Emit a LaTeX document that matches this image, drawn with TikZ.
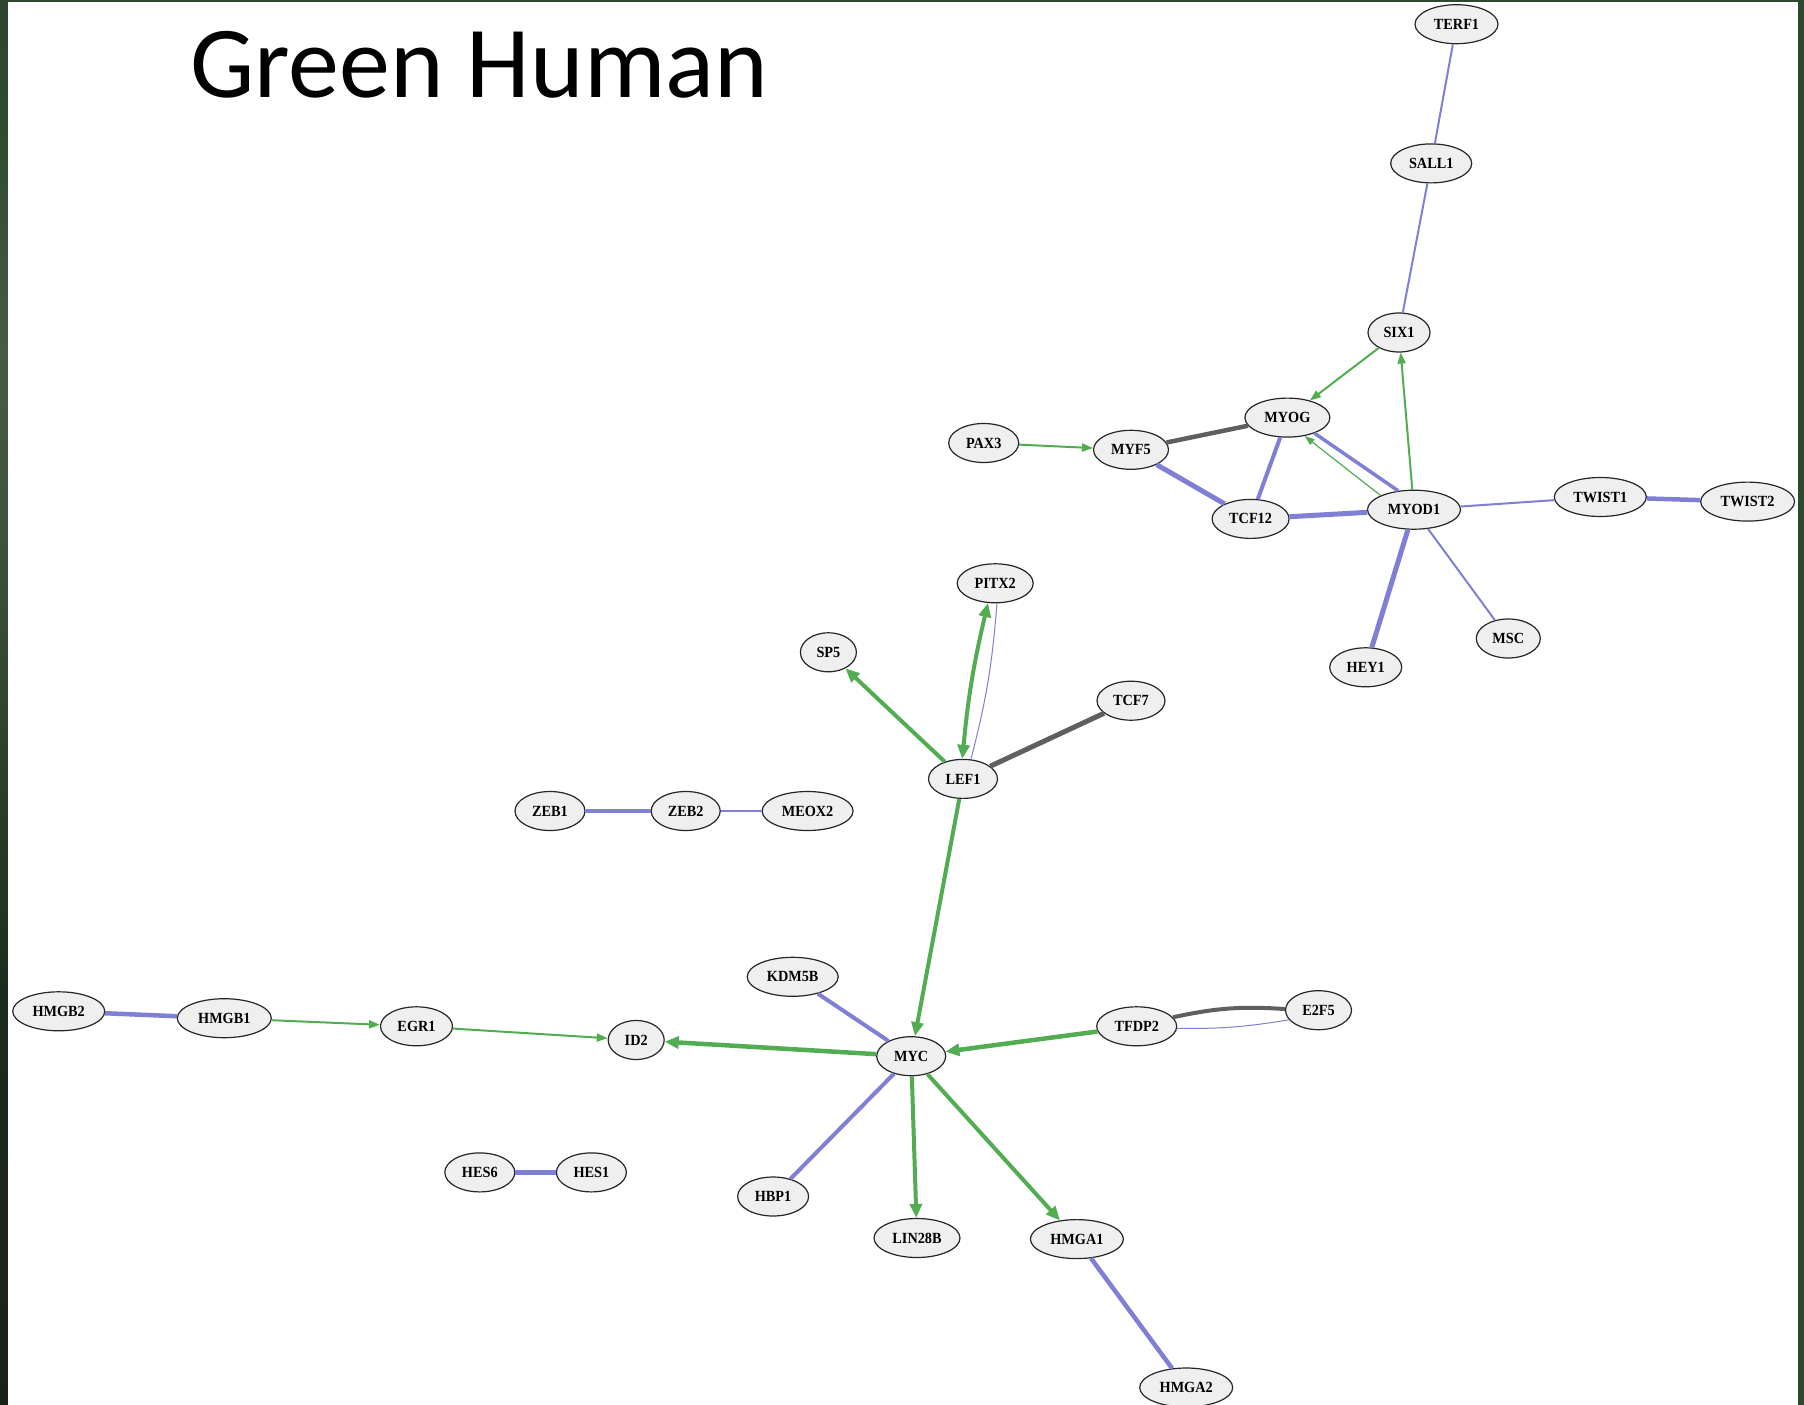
\documentclass[tikz,border=0pt]{standalone}
\usepackage{fontspec}
\usetikzlibrary{shapes.geometric,arrows.meta}
\newfontfamily\titlefont{Carlito}
\newfontfamily\nodefont{Liberation Serif}[FakeStretch=0.92]
\definecolor{eblue}{HTML}{7F7FD6}
\definecolor{egreen}{HTML}{52AD52}
\definecolor{egray}{HTML}{5F5F5F}
\definecolor{nfill}{HTML}{EFEFEF}
\definecolor{framec}{HTML}{2E482E}
\definecolor{sa}{HTML}{2C452C}
\definecolor{sb}{HTML}{304D30}
\definecolor{sc}{HTML}{465B46}
\definecolor{sd}{HTML}{3E5540}
\definecolor{se}{HTML}{2C422C}
\definecolor{sf}{HTML}{1C2C1C}
\definecolor{sg}{HTML}{1A231A}
\pgfdeclareverticalshading{leftstrip}{100bp}{color(0bp)=(sg); color(25bp)=(sg); color(39.4bp)=(sf); color(48.3bp)=(se); color(57.2bp)=(sd); color(62.5bp)=(sc); color(69.7bp)=(sb); color(75bp)=(sa); color(100bp)=(sa)}
\begin{document}
\begin{tikzpicture}[x=1pt,y=-1pt,
  gn/.style={ellipse, draw=black!85, line width=1.2pt, fill=nfill, inner sep=0pt,
    minimum height=39pt, minimum width=#1, font=\nodefont\bfseries\fontsize{15.5}{15.5}\selectfont},
  gn/.default=70pt,
  ub/.style={draw=eblue, line width=#1}, ub/.default=2pt,
  ug/.style={draw=egray, line width=#1}, ug/.default=4pt,
  ag/.style={draw=egreen, line width=#1, -{Triangle[length=14pt,width=12pt,fill=egreen]}}, ag/.default=4pt,
  agt/.style={draw=egreen, line width=#1, -{Triangle[length=11pt,width=8pt,fill=egreen]}}, agt/.default=2pt,
]
\useasboundingbox (0,0) rectangle (1804,1405);
% background frame
\fill[framec] (0,0) rectangle (1804,1405);
\shade[shading=leftstrip] (0,0) rectangle (8,1405);
\fill[white] (8,2) rectangle (1798,1405);

% title
\node[anchor=base west, inner sep=0pt, font=\titlefont\fontsize{102}{102}\selectfont] (title) at (190,97) {Green Human};

% nodes
\node[gn=83pt] (TERF1) at (1456.5,24.2) {TERF1};
\node[gn=81pt] (SALL1) at (1431.2,163.4) {SALL1};
\node[gn=62pt] (SIX1) at (1399,332.5) {SIX1};
\node[gn=85pt] (MYOG) at (1287.4,417.6) {MYOG};
\node[gn=70pt] (PAX3) at (983.7,443) {PAX3};
\node[gn=75pt] (MYF5) at (1131,449.8) {MYF5};
\node[gn=77pt] (TCF12) at (1250.6,518.9) {TCF12};
\node[gn=93pt] (MYOD1) at (1414,509.7) {MYOD1};
\node[gn=92pt] (TWIST1) at (1600.3,497) {TWIST1};
\node[gn=94pt] (TWIST2) at (1747.6,501.6) {TWIST2};
\node[gn=64pt] (MSC) at (1508.3,638.5) {MSC};
\node[gn=72pt] (HEY1) at (1365.7,667.3) {HEY1};
\node[gn=76pt] (PITX2) at (995.2,583.3) {PITX2};
\node[gn=56pt] (SP5) at (828.4,652.3) {SP5};
\node[gn=68pt] (TCF7) at (1131,700.7) {TCF7};
\node[gn=69pt] (LEF1) at (963,778.9) {LEF1};
\node[gn=70pt] (ZEB1) at (550,811) {ZEB1};
\node[gn=69pt] (ZEB2) at (685.7,811) {ZEB2};
\node[gn=91pt] (MEOX2) at (807.6,811) {MEOX2};
\node[gn=92pt] (HMGB2) at (58.7,1011.3) {HMGB2};
\node[gn=94pt] (HMGB1) at (224.3,1018.2) {HMGB1};
\node[gn=72pt] (EGR1) at (416.5,1026.3) {EGR1};
\node[gn=56pt] (ID2) at (636.2,1040) {ID2};
\node[gn=91pt] (KDM5B) at (792.7,976.8) {KDM5B};
\node[gn=69pt] (MYC) at (911.2,1056.2) {MYC};
\node[gn=80pt] (TFDP2) at (1136.7,1026.3) {TFDP2};
\node[gn=66pt] (E2F5) at (1318.5,1010.2) {E2F5};
\node[gn=70pt] (HES6) at (479.8,1172.4) {HES6};
\node[gn=70pt] (HES1) at (591.4,1172.4) {HES1};
\node[gn=71pt] (HBP1) at (773.1,1196.5) {HBP1};
\node[gn=86pt] (LIN28B) at (917,1238) {LIN28B};
\node[gn=93pt] (HMGA1) at (1076.9,1239.1) {HMGA1};
\node[gn=93pt] (HMGA2) at (1186.2,1387.5) {HMGA2};

% edges
\draw[ub] (TERF1) -- (SALL1);
\draw[ub] (SALL1) -- (SIX1);
\draw[agt] (SIX1) -- (MYOG);
\draw[agt] (MYOD1) -- (SIX1);
\draw[ug=4.5pt] (MYF5) -- (MYOG);
\draw[agt] (PAX3) -- (MYF5);
\draw[ub=5pt] (MYF5) -- (TCF12);
\draw[ub=4pt] (TCF12) -- (MYOG);
\draw[ub=3.5pt] (MYOG.330) -- (MYOD1.130);
\draw[draw=egreen, line width=1.2pt, -{Triangle[length=10pt,width=7pt,fill=egreen]}] (MYOD1.157) -- (MYOG.313);
\draw[ub=5pt] (TCF12) -- (MYOD1);
\draw[ub=2pt] (MYOD1) -- (TWIST1);
\draw[ub=4.5pt] (TWIST1) -- (TWIST2);
\draw[ub=5pt] (MYOD1) -- (HEY1);
\draw[ub=2pt] (MYOD1) -- (MSC);
\draw[draw=egreen, line width=4pt, {Triangle[length=14pt,width=12pt,fill=egreen]}-{Triangle[length=14pt,width=12pt,fill=egreen]}] (LEF1.92) to[bend left=4] (PITX2.250);
\draw[ub=1pt] (LEF1.68) to[bend right=5] (PITX2.275);
\draw[ag] (LEF1) -- (SP5);
\draw[ug=5pt] (LEF1) -- (TCF7);
\draw[ag] (LEF1) -- (MYC);
\draw[ub=4pt] (ZEB1) -- (ZEB2);
\draw[ub=2pt] (ZEB2) -- (MEOX2);
\draw[ub=4.5pt] (HMGB2) -- (HMGB1);
\draw[agt] (HMGB1) -- (EGR1);
\draw[agt] (EGR1) -- (ID2);
\draw[ag=4.5pt] (MYC) -- (ID2);
\draw[ub=4pt] (KDM5B) -- (MYC);
\draw[ag=4.5pt] (TFDP2) -- (MYC);
\draw[ug=4pt] (TFDP2.14) to[bend left=8] (E2F5.178);
\draw[ub=1pt] (TFDP2.357) to[bend right=5] (E2F5.198);
\draw[ub=4pt] (MYC) -- (HBP1);
\draw[ag] (MYC) -- (LIN28B);
\draw[ag] (MYC) -- (HMGA1);
\draw[ub=4.5pt] (HMGA1) -- (HMGA2);
\draw[ub=4.5pt] (HES6) -- (HES1);
\end{tikzpicture}
\end{document}
